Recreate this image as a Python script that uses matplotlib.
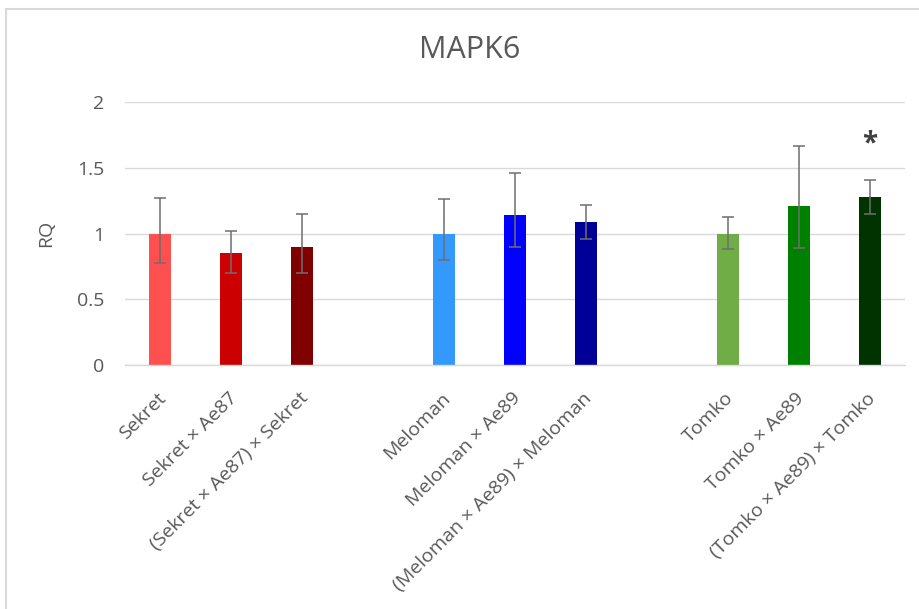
import matplotlib.pyplot as plt
from matplotlib.patches import Rectangle
from matplotlib.transforms import ScaledTranslation
import numpy as np

plt.rcParams['font.family'] = ['Open Sans', 'DejaVu Sans']

# Relative expression of MAPK6 per genotype (three groups of three)
genotypes = ["Sekret", "Sekret × Ae87", "(Sekret × Ae87) × Sekret",
             "Meloman", "Meloman × Ae89", "(Meloman × Ae89) × Meloman",
             "Tomko", "Tomko × Ae89", "(Tomko × Ae89) × Tomko"]
rq = [1.00, 0.85, 0.90, 1.00, 1.14, 1.09, 1.00, 1.21, 1.28]
err_upper = [0.27, 0.17, 0.25, 0.26, 0.32, 0.13, 0.13, 0.46, 0.13]
err_lower = [0.22, 0.15, 0.20, 0.20, 0.24, 0.13, 0.12, 0.32, 0.13]
bar_colors = ["#FF5050", "#CC0000", "#800000",
              "#3399FF", "#0000FF", "#000099",
              "#70AD47", "#008000", "#003300"]
significant = [False, False, False, False, False, False, False, False, True]

text_color = "#595959"
grid_color = "#D9D9D9"

fig = plt.figure(figsize=(9.2, 6.09), dpi=100)
ax = fig.add_axes([125 / 920, 1 - 365 / 609, 780 / 920, (365 - 102.3) / 609])

# leave an empty slot between the groups
x = np.arange(len(genotypes)) + np.arange(len(genotypes)) // 3

ax.bar(x, rq, width=0.31, color=bar_colors, zorder=2)
ax.errorbar(x, rq, yerr=[err_lower, err_upper], fmt='none', ecolor="#6E6E6E",
            elinewidth=1.1, capsize=4.5, capthick=1.1, zorder=3)

# significance marker above the error bar
for xi, yi, up, sig in zip(x, rq, err_upper, significant):
    if sig:
        ax.text(xi, yi + up + 0.27, "*", ha='center', va='center',
                fontsize=20, fontweight='bold', color="#404040")

ax.set_xlim(x[0] - 0.5, x[-1] + 0.5)
ax.set_ylim(0, 2)
ax.set_yticks([0, 0.5, 1, 1.5, 2])
ax.set_yticklabels(["0", "0.5", "1", "1.5", "2"])
ax.yaxis.grid(True, color=grid_color, linewidth=1.0, zorder=0)
ax.set_axisbelow(True)

for side in ['top', 'right', 'left']:
    ax.spines[side].set_visible(False)
ax.spines['bottom'].set_color(grid_color)
ax.spines['bottom'].set_linewidth(1.0)

ax.tick_params(axis='both', length=0, colors=text_color)
ax.tick_params(axis='y', labelsize=14, pad=15)
ax.tick_params(axis='x', labelsize=14, pad=22)

ax.set_xticks(x)
ax.set_xticklabels(genotypes)
shift = ScaledTranslation(3 / 100, 0, fig.dpi_scale_trans)
for lbl in ax.get_xticklabels():
    lbl.set_rotation(45)
    lbl.set_ha('right')
    lbl.set_va('center')
    lbl.set_rotation_mode('anchor')
    lbl.set_transform(lbl.get_transform() + shift)

ax.set_ylabel("RQ", fontsize=14, color=text_color)
ax.yaxis.set_label_coords(-70 / 780, 0.5)

fig.text(0.5 + 10 / 920, 1 - 50 / 609, "MAPK6", ha='center', va='center',
         fontsize=22, color=text_color)

# chart area border
fig.patches.append(Rectangle((6 / 920, -0.1), 1.0, 1 - 9 / 609 + 0.1,
                             transform=fig.transFigure, fill=False,
                             edgecolor=grid_color, linewidth=1.5))

fig.savefig("out.png", dpi=100)
